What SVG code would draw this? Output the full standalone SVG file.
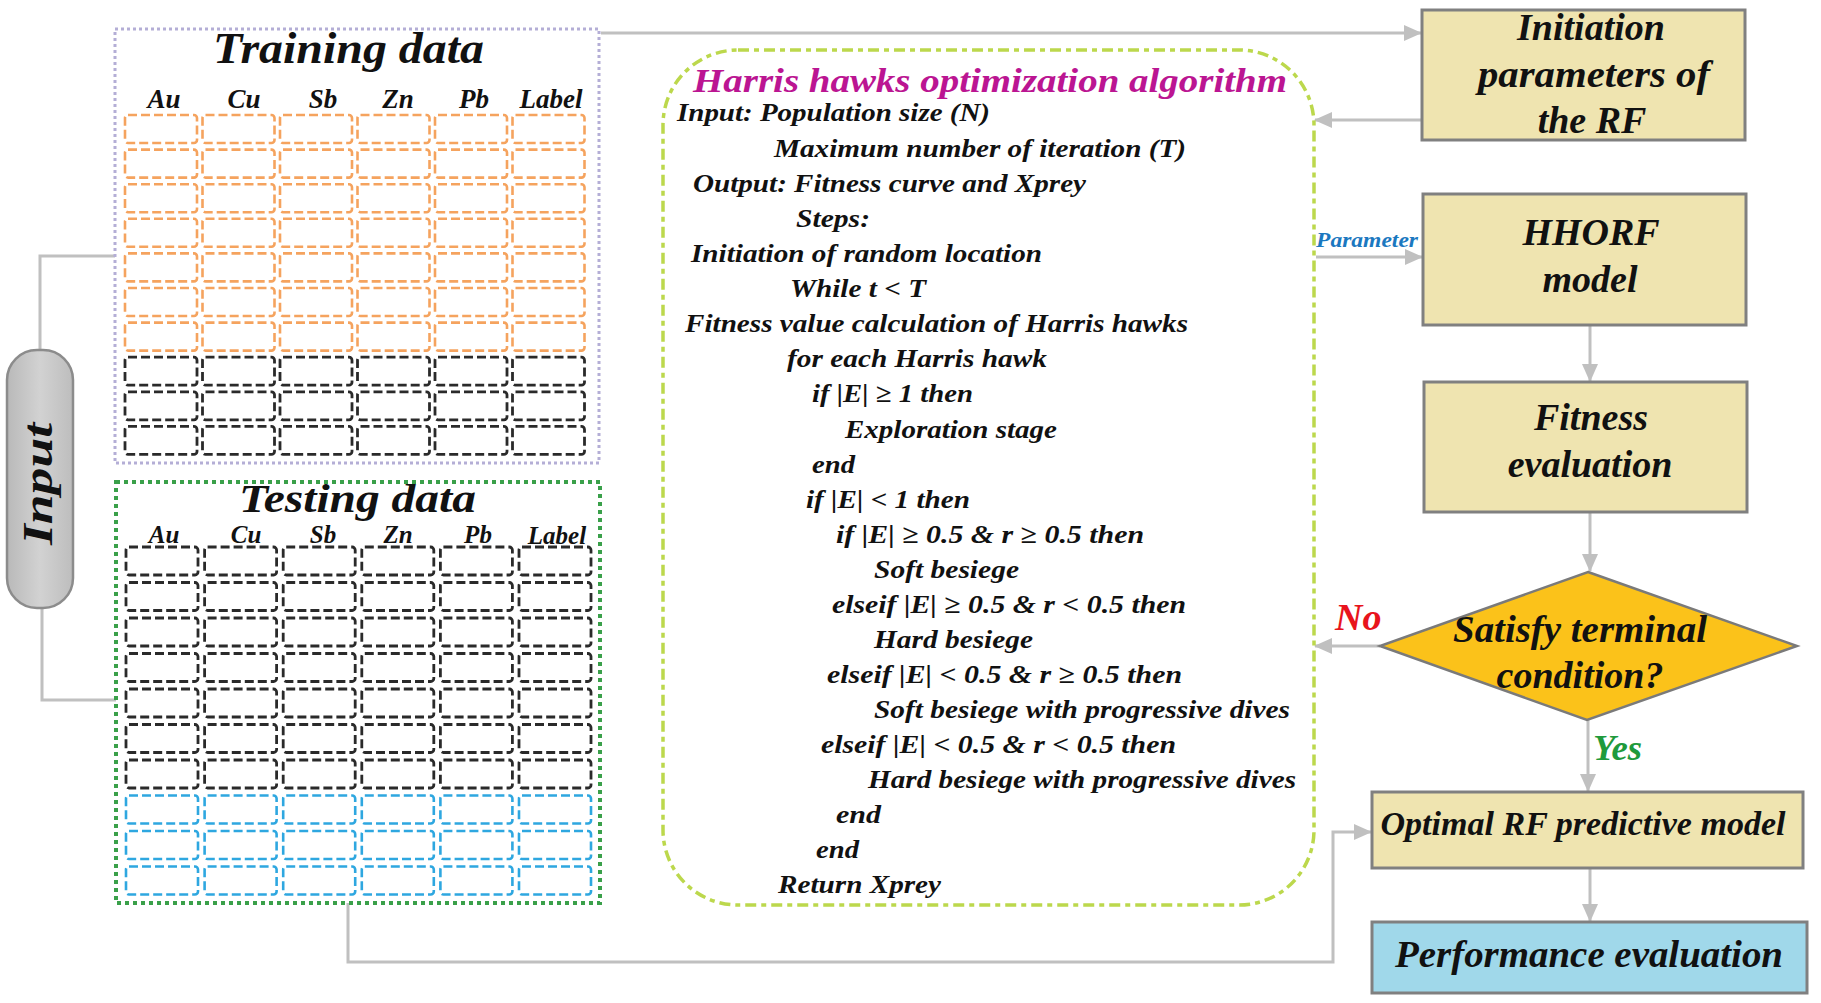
<svg xmlns="http://www.w3.org/2000/svg" xmlns:xlink="http://www.w3.org/1999/xlink" width="1821" height="1003" viewBox="0 0 1821 1003">
<style>
.t{font-family:"Liberation Serif","Times New Roman",serif;font-weight:bold;font-style:italic;fill:#111}
.m{text-anchor:middle}
.co{fill:none;stroke:#f5a35e;stroke-width:2.6;stroke-dasharray:9 4}
.cb{fill:none;stroke:#2a2a2a;stroke-width:2.8;stroke-dasharray:9 4}
.cl{fill:none;stroke:#2ea7e0;stroke-width:2.6;stroke-dasharray:9 4}
.box{fill:#efe4b0;stroke:#808080;stroke-width:3}
.ln{fill:none;stroke:#c0c0c0;stroke-width:3}
.ar{fill:none;stroke:#c0c0c0;stroke-width:3;marker-end:url(#ah)}
.hd{font-size:27px}
.hs{font-size:25px}
.al{font-size:26px}
.bx{font-size:38px}
</style>
<defs>
<marker id="ah" markerUnits="userSpaceOnUse" markerWidth="18" markerHeight="16" refX="17" refY="8" orient="auto">
<path d="M0,0 L18,8 L0,16 Z" fill="#c0c0c0"/>
</marker>
<linearGradient id="pg" x1="0" y1="0" x2="1" y2="0">
<stop offset="0" stop-color="#b9b9b9"/>
<stop offset="0.5" stop-color="#d2d2d2"/>
<stop offset="1" stop-color="#bdbdbd"/>
</linearGradient>
<rect id="c" width="72" height="28" rx="3"/>
</defs>

<g id="connectors">
<polyline class="ln" points="40,350 40,256 115,256"/>
<polyline class="ln" points="42,608 42,700 116,700"/>
<line class="ar" x1="601" y1="33" x2="1421" y2="33"/>
<line class="ar" x1="1422" y1="120" x2="1315" y2="120"/>
<line class="ar" x1="1316" y1="257" x2="1422" y2="257"/>
<line class="ar" x1="1590" y1="325" x2="1590" y2="381"/>
<line class="ar" x1="1590" y1="512" x2="1590" y2="571"/>
<line class="ar" x1="1380" y1="646" x2="1315" y2="646"/>
<line class="ar" x1="1588" y1="720" x2="1588" y2="791"/>
<line class="ar" x1="1590" y1="868" x2="1590" y2="921"/>
<polyline class="ar" points="348,903 348,962 1333,962 1333,832 1371,832"/>
<text class="t" x="1316" y="247" font-size="20" style="fill:#1b78c0" textLength="102" lengthAdjust="spacingAndGlyphs">Parameter</text>
<text class="t" x="1335" y="630" font-size="38" style="fill:#e8141c">No</text>
<text class="t" x="1593" y="760" font-size="36" style="fill:#1f9a3c" textLength="49" lengthAdjust="spacingAndGlyphs">Yes</text>
</g>

<g id="input">
<rect x="7" y="350" width="66" height="258" rx="30" fill="url(#pg)" stroke="#8c8c8c" stroke-width="2.5"/>
<text class="t m" transform="translate(52,484) rotate(-90)" font-size="42" textLength="122" lengthAdjust="spacingAndGlyphs">Input</text>
</g>

<g id="training">
<rect x="115" y="29" width="484" height="434" fill="none" stroke="#b4aed6" stroke-width="3" stroke-dasharray="3 3"/>
<text class="t" x="213" y="63" font-size="45" textLength="271" lengthAdjust="spacingAndGlyphs">Training data</text>
<g class="t m hd">
<text x="164" y="108">Au</text><text x="244" y="108">Cu</text><text x="323" y="108">Sb</text><text x="398" y="108">Zn</text><text x="474" y="108">Pb</text><text x="551" y="108">Label</text>
</g>
<g class="co">
<use href="#c" x="125" y="115"/><use href="#c" x="202.5" y="115"/><use href="#c" x="280" y="115"/><use href="#c" x="357.5" y="115"/><use href="#c" x="435" y="115"/><use href="#c" x="512.5" y="115"/>
<use href="#c" x="125" y="149.6"/><use href="#c" x="202.5" y="149.6"/><use href="#c" x="280" y="149.6"/><use href="#c" x="357.5" y="149.6"/><use href="#c" x="435" y="149.6"/><use href="#c" x="512.5" y="149.6"/>
<use href="#c" x="125" y="184.2"/><use href="#c" x="202.5" y="184.2"/><use href="#c" x="280" y="184.2"/><use href="#c" x="357.5" y="184.2"/><use href="#c" x="435" y="184.2"/><use href="#c" x="512.5" y="184.2"/>
<use href="#c" x="125" y="218.8"/><use href="#c" x="202.5" y="218.8"/><use href="#c" x="280" y="218.8"/><use href="#c" x="357.5" y="218.8"/><use href="#c" x="435" y="218.8"/><use href="#c" x="512.5" y="218.8"/>
<use href="#c" x="125" y="253.4"/><use href="#c" x="202.5" y="253.4"/><use href="#c" x="280" y="253.4"/><use href="#c" x="357.5" y="253.4"/><use href="#c" x="435" y="253.4"/><use href="#c" x="512.5" y="253.4"/>
<use href="#c" x="125" y="288"/><use href="#c" x="202.5" y="288"/><use href="#c" x="280" y="288"/><use href="#c" x="357.5" y="288"/><use href="#c" x="435" y="288"/><use href="#c" x="512.5" y="288"/>
<use href="#c" x="125" y="322.6"/><use href="#c" x="202.5" y="322.6"/><use href="#c" x="280" y="322.6"/><use href="#c" x="357.5" y="322.6"/><use href="#c" x="435" y="322.6"/><use href="#c" x="512.5" y="322.6"/>
</g>
<g class="cb">
<use href="#c" x="125" y="357.2"/><use href="#c" x="202.5" y="357.2"/><use href="#c" x="280" y="357.2"/><use href="#c" x="357.5" y="357.2"/><use href="#c" x="435" y="357.2"/><use href="#c" x="512.5" y="357.2"/>
<use href="#c" x="125" y="391.8"/><use href="#c" x="202.5" y="391.8"/><use href="#c" x="280" y="391.8"/><use href="#c" x="357.5" y="391.8"/><use href="#c" x="435" y="391.8"/><use href="#c" x="512.5" y="391.8"/>
<use href="#c" x="125" y="426.4"/><use href="#c" x="202.5" y="426.4"/><use href="#c" x="280" y="426.4"/><use href="#c" x="357.5" y="426.4"/><use href="#c" x="435" y="426.4"/><use href="#c" x="512.5" y="426.4"/>
</g>
</g>

<g id="testing">
<rect x="116" y="482" width="484" height="421" fill="none" stroke="#3aa04a" stroke-width="4" stroke-dasharray="4 4"/>
<text class="t" x="239" y="512" font-size="41" textLength="237" lengthAdjust="spacingAndGlyphs">Testing data</text>
<g class="t m hs">
<text x="164" y="543">Au</text><text x="246" y="543">Cu</text><text x="323" y="543">Sb</text><text x="398" y="543">Zn</text><text x="478" y="543">Pb</text><text x="557" y="544">Label</text>
</g>
<g class="cb">
<use href="#c" x="126" y="547"/><use href="#c" x="204.6" y="547"/><use href="#c" x="283.2" y="547"/><use href="#c" x="361.8" y="547"/><use href="#c" x="440.4" y="547"/><use href="#c" x="519" y="547"/>
<use href="#c" x="126" y="582.5"/><use href="#c" x="204.6" y="582.5"/><use href="#c" x="283.2" y="582.5"/><use href="#c" x="361.8" y="582.5"/><use href="#c" x="440.4" y="582.5"/><use href="#c" x="519" y="582.5"/>
<use href="#c" x="126" y="618"/><use href="#c" x="204.6" y="618"/><use href="#c" x="283.2" y="618"/><use href="#c" x="361.8" y="618"/><use href="#c" x="440.4" y="618"/><use href="#c" x="519" y="618"/>
<use href="#c" x="126" y="653.5"/><use href="#c" x="204.6" y="653.5"/><use href="#c" x="283.2" y="653.5"/><use href="#c" x="361.8" y="653.5"/><use href="#c" x="440.4" y="653.5"/><use href="#c" x="519" y="653.5"/>
<use href="#c" x="126" y="689"/><use href="#c" x="204.6" y="689"/><use href="#c" x="283.2" y="689"/><use href="#c" x="361.8" y="689"/><use href="#c" x="440.4" y="689"/><use href="#c" x="519" y="689"/>
<use href="#c" x="126" y="724.5"/><use href="#c" x="204.6" y="724.5"/><use href="#c" x="283.2" y="724.5"/><use href="#c" x="361.8" y="724.5"/><use href="#c" x="440.4" y="724.5"/><use href="#c" x="519" y="724.5"/>
<use href="#c" x="126" y="760"/><use href="#c" x="204.6" y="760"/><use href="#c" x="283.2" y="760"/><use href="#c" x="361.8" y="760"/><use href="#c" x="440.4" y="760"/><use href="#c" x="519" y="760"/>
</g>
<g class="cl">
<use href="#c" x="126" y="795.5"/><use href="#c" x="204.6" y="795.5"/><use href="#c" x="283.2" y="795.5"/><use href="#c" x="361.8" y="795.5"/><use href="#c" x="440.4" y="795.5"/><use href="#c" x="519" y="795.5"/>
<use href="#c" x="126" y="831"/><use href="#c" x="204.6" y="831"/><use href="#c" x="283.2" y="831"/><use href="#c" x="361.8" y="831"/><use href="#c" x="440.4" y="831"/><use href="#c" x="519" y="831"/>
<use href="#c" x="126" y="866.5"/><use href="#c" x="204.6" y="866.5"/><use href="#c" x="283.2" y="866.5"/><use href="#c" x="361.8" y="866.5"/><use href="#c" x="440.4" y="866.5"/><use href="#c" x="519" y="866.5"/>
</g>
</g>

<g id="hho">
<rect x="663" y="50" width="651" height="855" rx="75" fill="none" stroke="#bcd84c" stroke-width="3.5" stroke-dasharray="11 5 5 5"/>
<text class="t" x="693" y="92" font-size="34" style="fill:#bb1592" textLength="594" lengthAdjust="spacingAndGlyphs">Harris hawks optimization algorithm</text>
<g class="t al">
<text x="677" y="121" textLength="313" lengthAdjust="spacingAndGlyphs">Input: Population size (N)</text>
<text x="774" y="157" textLength="412" lengthAdjust="spacingAndGlyphs">Maximum number of iteration (T)</text>
<text x="693" y="192" textLength="393" lengthAdjust="spacingAndGlyphs">Output: Fitness curve and Xprey</text>
<text x="796" y="227" textLength="74" lengthAdjust="spacingAndGlyphs">Steps:</text>
<text x="691" y="262" textLength="351" lengthAdjust="spacingAndGlyphs">Initiation of random location</text>
<text x="790" y="297" textLength="136" lengthAdjust="spacingAndGlyphs">While t &lt; T</text>
<text x="685" y="332" textLength="503" lengthAdjust="spacingAndGlyphs">Fitness value calculation of Harris hawks</text>
<text x="787" y="367" textLength="260" lengthAdjust="spacingAndGlyphs">for each Harris hawk</text>
<text x="812" y="402" textLength="161" lengthAdjust="spacingAndGlyphs">if |E| ≥ 1 then</text>
<text x="845" y="438" textLength="212" lengthAdjust="spacingAndGlyphs">Exploration stage</text>
<text x="812" y="473" textLength="43" lengthAdjust="spacingAndGlyphs">end</text>
<text x="806" y="508" textLength="164" lengthAdjust="spacingAndGlyphs">if |E| &lt; 1 then</text>
<text x="836" y="543" textLength="308" lengthAdjust="spacingAndGlyphs">if  |E| ≥ 0.5 &amp; r ≥ 0.5 then</text>
<text x="874" y="578" textLength="145" lengthAdjust="spacingAndGlyphs">Soft besiege</text>
<text x="832" y="613" textLength="354" lengthAdjust="spacingAndGlyphs">elseif  |E| ≥ 0.5 &amp; r &lt; 0.5 then</text>
<text x="874" y="648" textLength="159" lengthAdjust="spacingAndGlyphs">Hard besiege</text>
<text x="827" y="683" textLength="355" lengthAdjust="spacingAndGlyphs">elseif  |E| &lt; 0.5 &amp; r ≥ 0.5 then</text>
<text x="874" y="718" textLength="416" lengthAdjust="spacingAndGlyphs">Soft besiege with progressive dives</text>
<text x="821" y="753" textLength="355" lengthAdjust="spacingAndGlyphs">elseif  |E| &lt; 0.5 &amp; r &lt; 0.5 then</text>
<text x="868" y="788" textLength="428" lengthAdjust="spacingAndGlyphs">Hard besiege with progressive dives</text>
<text x="836" y="823" textLength="45" lengthAdjust="spacingAndGlyphs">end</text>
<text x="816" y="858" textLength="43" lengthAdjust="spacingAndGlyphs">end</text>
<text x="778" y="893" textLength="163" lengthAdjust="spacingAndGlyphs">Return Xprey</text>
</g>
</g>

<g id="init">
<rect class="box" x="1422" y="10" width="323" height="130"/>
<text class="t m bx" x="1591" y="40">Initiation</text>
<text class="t m bx" x="1594" y="87" textLength="232" lengthAdjust="spacingAndGlyphs">parameters of</text>
<text class="t m bx" x="1592" y="133">the RF</text>
</g>

<g id="hhorf">
<rect class="box" x="1423" y="194" width="323" height="131"/>
<text class="t m bx" x="1591" y="245">HHORF</text>
<text class="t m bx" x="1590" y="292">model</text>
</g>

<g id="fitness">
<rect class="box" x="1424" y="382" width="323" height="130"/>
<text class="t m bx" x="1591" y="430">Fitness</text>
<text class="t m bx" x="1590" y="477">evaluation</text>
</g>

<g id="decision">
<polygon points="1588,572 1797,646 1587,720 1380,646" fill="#fbc21a" stroke="#7a7a7a" stroke-width="2.5"/>
<text class="t m bx" x="1580" y="642" textLength="254" lengthAdjust="spacingAndGlyphs">Satisfy terminal</text>
<text class="t m bx" x="1580" y="688">condition?</text>
</g>

<g id="optimal">
<rect class="box" x="1372" y="792" width="431" height="76"/>
<text class="t m" x="1583" y="835" font-size="34" textLength="405" lengthAdjust="spacingAndGlyphs">Optimal RF predictive model</text>
</g>

<g id="performance">
<rect x="1372" y="922" width="435" height="71" fill="#a0d8ea" stroke="#808080" stroke-width="3"/>
<text class="t m bx" x="1589" y="967" textLength="388" lengthAdjust="spacingAndGlyphs">Performance evaluation</text>
</g>
</svg>
